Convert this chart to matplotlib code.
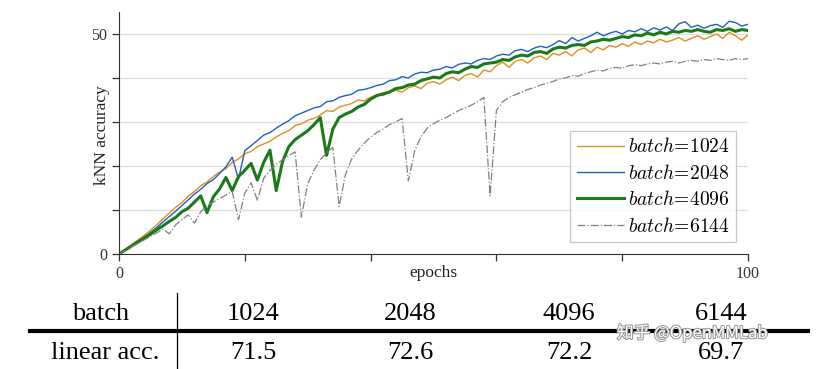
import matplotlib
matplotlib.use("Agg")
import matplotlib.pyplot as plt
import matplotlib.patheffects as pe
from matplotlib.lines import Line2D

plt.rcParams["font.family"] = ["Liberation Serif", "DejaVu Serif"]
plt.rcParams["mathtext.fontset"] = "cm"

# epocas
epochs = list(range(0, 101))

# kNN accuracy, batch=1024
acc_1024 = [0, 1.1, 2.1, 3.2, 4.2, 5.4, 6.6, 8.0, 9.3, 10.6,
            11.7, 13.1, 14.2, 15.5, 16.4, 17.6, 18.6, 19.4, 20.8, 21.6,
            22.8, 23.3, 24.4, 25.0, 25.6, 26.6, 27.4, 28.0, 29.2, 29.6,
            30.4, 30.8, 31.6, 32.6, 32.4, 33.4, 33.8, 34.2, 35.0, 34.8,
            35.6, 36.2, 36.0, 36.8, 37.2, 36.8, 37.8, 38.2, 37.6, 38.8,
            39.2, 38.6, 39.6, 40.2, 39.4, 40.6, 41.0, 40.2, 41.8, 41.4,
            42.8, 43.6, 42.4, 43.8, 44.2, 43.4, 44.6, 45.0, 44.2, 45.6,
            45.2, 46.0, 45.0, 46.4, 46.8, 45.8, 47.0, 46.4, 47.4, 47.0,
            47.8, 47.2, 48.2, 47.6, 48.4, 48.0, 48.8, 48.2, 48.6, 49.2,
            48.4, 49.0, 49.6, 48.8, 49.4, 50.0, 49.0, 50.4, 49.6, 48.6,
            49.8]

# batch=2048
acc_2048 = [0, 1.0, 1.9, 2.9, 3.8, 4.9, 6.0, 7.3, 8.5, 9.7,
            11.0, 12.3, 13.6, 14.7, 16.0, 16.9, 18.3, 19.8, 22.0, 17.0,
            23.5, 24.6, 25.8, 27.0, 27.6, 28.6, 29.5, 30.3, 31.4, 32.0,
            32.6, 33.2, 33.5, 34.6, 34.8, 35.6, 36.0, 36.3, 37.2, 37.4,
            37.8, 38.3, 38.6, 39.4, 39.6, 40.3, 40.0, 40.9, 41.3, 41.2,
            41.8, 42.0, 42.6, 42.3, 43.1, 43.4, 43.2, 44.0, 44.4, 44.2,
            45.0, 45.4, 45.2, 46.2, 46.5, 46.0, 46.8, 47.2, 46.9, 47.6,
            48.5, 47.8, 49.2, 48.4, 49.0, 49.6, 50.4, 49.6, 50.2, 50.6,
            50.0, 50.8, 50.5, 51.2, 50.6, 51.4, 50.9, 51.6, 50.8, 52.3,
            52.8, 51.5, 52.0, 51.3, 51.9, 52.2, 51.5, 52.9, 52.6, 51.8,
            52.2]

# batch=4096
acc_4096 = [0, 0.9, 1.8, 2.7, 3.6, 4.5, 5.5, 6.4, 7.4, 8.3,
            9.6, 10.4, 11.8, 13.2, 9.4, 13.0, 14.8, 17.4, 14.4, 17.6,
            19.0, 20.6, 16.8, 20.8, 23.6, 14.4, 21.0, 24.4, 26.0, 27.0,
            28.0, 29.4, 31.0, 22.4, 28.4, 31.0, 31.8, 32.4, 33.4, 34.0,
            35.2, 36.0, 36.4, 36.8, 37.6, 37.8, 38.4, 38.6, 39.4, 39.8,
            40.2, 40.0, 41.0, 41.4, 41.2, 42.0, 42.6, 42.4, 43.2, 43.4,
            43.6, 44.2, 44.0, 44.8, 45.2, 45.0, 45.8, 46.0, 45.6, 46.6,
            47.0, 46.8, 47.4, 47.6, 47.4, 48.2, 48.4, 48.8, 48.6, 49.0,
            49.4, 49.2, 49.8, 49.6, 50.2, 49.8, 50.4, 50.0, 50.6, 50.4,
            50.8, 50.6, 51.0, 50.6, 50.4, 51.0, 50.8, 51.2, 50.6, 51.0,
            50.8]

# batch=6144
acc_6144 = [0, 0.8, 1.6, 2.4, 3.2, 4.0, 4.8, 5.6, 4.6, 6.6,
            7.8, 8.9, 7.0, 9.6, 11.0, 11.8, 12.6, 13.4, 14.2, 7.8,
            13.8, 16.2, 12.2, 17.2, 19.0, 20.4, 21.4, 22.4, 23.2, 8.4,
            16.0, 19.0, 21.4, 23.0, 24.2, 10.8, 18.0, 21.6, 23.6, 25.2,
            26.6, 27.6, 28.4, 29.4, 30.0, 30.8, 16.6, 23.4, 26.6, 28.6,
            29.6, 30.4, 31.0, 31.8, 32.6, 33.2, 33.8, 34.6, 35.6, 13.2,
            32.6, 34.6, 35.6, 36.2, 36.8, 37.4, 37.8, 38.4, 38.8, 39.2,
            39.8, 40.0, 40.6, 40.4, 41.0, 41.4, 41.8, 41.6, 42.2, 42.4,
            42.2, 42.8, 43.0, 42.8, 43.2, 43.4, 43.2, 43.6, 43.8, 43.4,
            43.8, 44.0, 43.8, 44.2, 44.0, 44.4, 44.2, 44.0, 44.4, 44.2,
            44.4]

# tabla inferior
batches = ["1024", "2048", "4096", "6144"]
linear_acc = ["71.5", "72.6", "72.2", "69.7"]

fig = plt.figure(figsize=(8.25, 3.69), dpi=100)
ax = fig.add_axes([0.1442, 0.3117, 0.7625, 0.6558])

ax.plot(epochs, acc_1024, color="#E28C1E", lw=1.0, label=r"$batch\!=\!1024$")
ax.plot(epochs, acc_2048, color="#1F5FC0", lw=1.0, label=r"$batch\!=\!2048$")
ax.plot(epochs, acc_4096, color="#1A7A1A", lw=2.2, label=r"$batch\!=\!4096$")
ax.plot(epochs, acc_6144, color="#808080", lw=0.9, ls="-.", label=r"$batch\!=\!6144$")

ax.set_xlim(0, 100)
ax.set_ylim(0, 55)
ax.set_xticks([0, 20, 40, 60, 80, 100])
ax.set_xticklabels(["0", "", "", "", "", "100"])
ax.set_yticks([0, 10, 20, 30, 40, 50])
ax.set_yticklabels(["0", "", "", "", "", "50"])
ax.tick_params(labelsize=11.5, colors="#333333", length=5, width=0.9)
ax.grid(axis="y", color="#dddddd", lw=0.9)
ax.set_axisbelow(True)
for s in ["top", "right"]:
    ax.spines[s].set_visible(False)
for s in ["left", "bottom"]:
    ax.spines[s].set_color("#333333")

ax.set_ylabel("kNN accuracy", fontsize=12.5, color="#222222")
ax.yaxis.set_label_coords(-0.015, 0.49)
ax.set_xlabel("epochs", fontsize=12.5, color="#222222", labelpad=-12)

leg = ax.legend(loc="lower right", fontsize=14, frameon=True, fancybox=False,
                handlelength=2.4, handletextpad=0.2, labelspacing=0.38,
                borderpad=0.35, borderaxespad=0.6)
leg.get_frame().set_edgecolor("#bbbbbb")
leg.get_frame().set_linewidth(0.9)

# tabla: batch / linear acc.
W, H = 825.0, 369.0
cols_x = [253, 410, 569, 721]
fig.text(101 / W, 1 - 320 / H, "batch", fontsize=19, ha="center", va="baseline")
fig.text(105 / W, 1 - 359 / H, "linear acc.", fontsize=19, ha="center", va="baseline")
for cx, b, a in zip(cols_x, batches, linear_acc):
    fig.text(cx / W, 1 - 320 / H, b, fontsize=19, ha="center", va="baseline")
    fig.text(cx / W, 1 - 359 / H, a, fontsize=19, ha="center", va="baseline")

fig.add_artist(Line2D([30 / W, 808 / W], [1 - 331 / H, 1 - 331 / H],
                      color="black", lw=3.0, transform=fig.transFigure))
fig.add_artist(Line2D([177 / W, 177 / W], [1 - 293 / H, 0],
                      color="black", lw=0.9, transform=fig.transFigure))

# marca de agua
fig.text(692 / W, 1 - 333 / H, "知乎 @OpenMMLab", fontsize=12, ha="center", va="center",
         color="white", family=["Noto Sans CJK SC", "DejaVu Sans"],
         path_effects=[pe.withStroke(linewidth=1.5, foreground="#999999")])

fig.savefig("out.png", dpi=100)
